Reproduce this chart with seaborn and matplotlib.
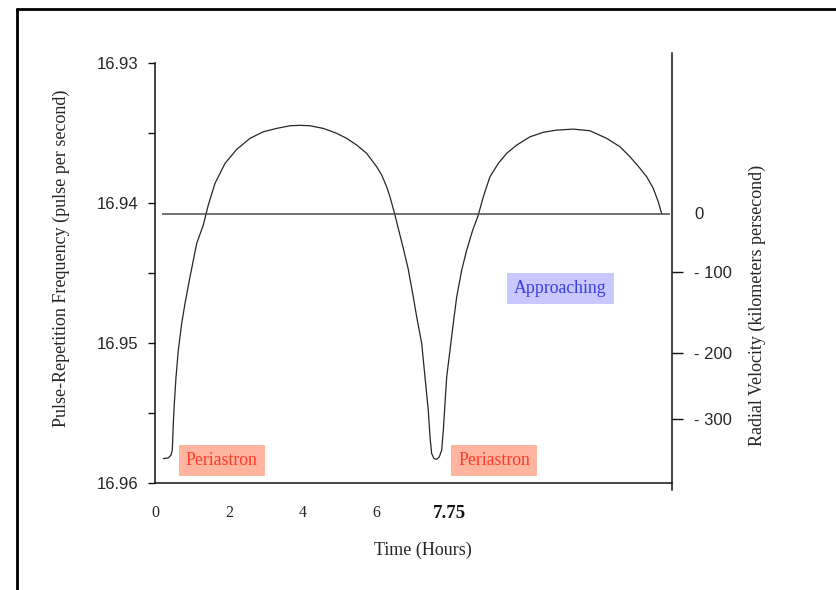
import matplotlib
matplotlib.use("Agg")
import matplotlib.pyplot as plt
from matplotlib.lines import Line2D
import pandas as pd
import seaborn as sns

# ---------------- data ----------------
time_hours = [0.225, 0.360, 0.433, 0.468, 0.496, 0.523, 0.569, 0.631, 0.723, 0.812,
              0.948, 1.129, 1.308, 1.443, 1.625, 1.895, 2.212, 2.572, 2.933, 3.295,
              3.656, 3.926, 4.197, 4.557, 4.920, 5.191, 5.462, 5.732, 6.003, 6.139,
              6.274, 6.363, 6.499, 6.588, 6.723, 6.851, 6.994, 7.086, 7.222, 7.311,
              7.400, 7.447, 7.492, 7.555, 7.628, 7.698, 7.763, 7.807, 7.853, 7.899,
              7.988, 8.077, 8.170, 8.305, 8.440, 8.603, 8.754, 8.890, 9.071, 9.296,
              9.523, 9.794, 10.154, 10.515, 10.877, 11.327, 11.779, 12.231, 12.591, 12.862,
              13.133, 13.314, 13.493, 13.628, 13.720]
pulse_freq = [16.95826, 16.95821, 16.95802, 16.95766, 16.95576, 16.95433, 16.95243, 16.95052,
              16.94861, 16.94719, 16.94529, 16.94290, 16.94159, 16.94016, 16.93861, 16.93719,
              16.93619, 16.93540, 16.93493, 16.93469, 16.93450, 16.93447, 16.93450, 16.93469,
              16.93504, 16.93540, 16.93588, 16.93647, 16.93743, 16.93802, 16.93886, 16.93957,
              16.94088, 16.94183, 16.94324, 16.94466, 16.94671, 16.94814, 16.95004, 16.95243,
              16.95481, 16.95671, 16.95790, 16.95826, 16.95831, 16.95814, 16.95766, 16.95624,
              16.95433, 16.95243, 16.95052, 16.94861, 16.94671, 16.94481, 16.94338, 16.94195,
              16.94088, 16.93957, 16.93814, 16.93719, 16.93647, 16.93588, 16.93529, 16.93497,
              16.93481, 16.93474, 16.93486, 16.93540, 16.93600, 16.93671, 16.93754, 16.93814,
              16.93897, 16.93993, 16.94076]

x_ticks = [0, 2, 4, 6, 7.75, 10, 12]
x_tick_labels = ["0", "2", "4", "6", "", "", ""]
highlight_tick = 7.75
highlight_label = "7.75"
left_major_ticks = [16.93, 16.94, 16.95, 16.96]
left_tick_labels = ["16.93", "16.94", "16.95", "16.96"]
left_minor_ticks = [16.935, 16.945, 16.955]
# radial velocity axis: labels and where they sit on the frequency scale
right_tick_labels = ["0", "- 100", "- 200", "- 300"]
right_tick_freq = [16.94076, 16.94493, 16.95074, 16.95545]
zero_velocity_freq = 16.94083
zero_line_span = [0.18, 13.95]

annotations = [
    ("Periastron", 1.81, 16.95838, "#FFB4A0", "#FF3C28"),
    ("Periastron", 9.19, 16.95838, "#FFB4A0", "#FF3C28"),
    ("Approaching", 10.97, 16.94609, "#C8C8FF", "#3C3CDC"),
]

df = pd.DataFrame({"Time (Hours)": time_hours, "freq": pulse_freq})

# ---------------- figure ----------------
sns.set_style("white")
plt.rcParams["font.family"] = ["Liberation Serif", "DejaVu Serif"]

W, H = 837, 590
fig = plt.figure(figsize=(W / 100, H / 100), dpi=100)
ax = fig.add_axes([155 / W, 1 - 483 / H, (672 - 155) / W, (483 - 62.7) / H])

sns.lineplot(data=df, x="Time (Hours)", y="freq", ax=ax, color="#262626",
             linewidth=0.9, sort=False)
ax.hlines(zero_velocity_freq, zero_line_span[0], zero_line_span[1],
          color="#4a4a4a", linewidth=1.1)

ax.set_xlim(0, 14)
ax.set_ylim(16.96, 16.93)

for s in ["top", "right"]:
    ax.spines[s].set_visible(False)
for s in ["left", "bottom"]:
    ax.spines[s].set_color("#111111")
    ax.spines[s].set_linewidth(1.1)

ax.set_xticks(x_ticks)
ax.set_xticklabels(x_tick_labels, fontsize=11.5)
ax.tick_params(axis="x", direction="out", length=5, width=1, color="#111111", pad=11)
ax.annotate(highlight_label, xy=(highlight_tick, 0), xycoords=("data", "axes fraction"),
            xytext=(8, -30), textcoords="offset pixels", ha="center", va="center",
            fontsize=13.5, fontweight="bold", color="#111111")

ax.set_yticks(left_major_ticks)
ax.set_yticklabels(left_tick_labels, family=["Liberation Sans", "DejaVu Sans"], fontsize=12)
ax.set_yticks(left_minor_ticks, minor=True)
ax.tick_params(axis="y", which="both", direction="out", length=5, width=1,
               color="#111111", pad=7, left=True)

ax.set_xlabel("Time (Hours)", fontsize=13)
ax.xaxis.set_label_coords((423 - 155) / 517, -(542 - 483) / 420)
ax.set_ylabel("Pulse-Repetition Frequency (pulse per second)", fontsize=13)
ax.yaxis.set_label_coords((70 - 155) / 517, (483 - 258) / 420)

# right axis (radial velocity)
twin = ax.twinx()
twin.set_ylim(ax.get_ylim())
for s in ["top", "left", "bottom"]:
    twin.spines[s].set_visible(False)
twin.spines["right"].set_color("#111111")
twin.spines["right"].set_linewidth(1.1)
twin.spines["right"].set_bounds(16.9605, 16.9293)
twin.set_yticks(right_tick_freq)
twin.set_yticklabels(right_tick_labels, family=["Liberation Sans", "DejaVu Sans"], fontsize=12)
twin.tick_params(axis="y", direction="out", length=8, width=1, color="#111111", pad=8)
zero_tick = twin.yaxis.get_major_ticks()[0]
zero_tick.tick2line.set_visible(False)
twin.set_ylabel("Radial Velocity (kilometers persecond)", fontsize=13)
twin.yaxis.set_label_coords((749 - 155) / 517, (483 - 306) / 420)

for text, xh, yf, bg, fg in annotations:
    ax.text(xh, yf, text, ha="center", va="center", fontsize=12.8, color=fg,
            bbox=dict(boxstyle="square,pad=0.4", facecolor=bg, edgecolor="none"))

# outer frame (top and left edges visible)
fig.add_artist(Line2D([17 / W, 1.0], [1 - 9 / H, 1 - 9 / H], transform=fig.transFigure,
                      color="black", linewidth=2))
fig.add_artist(Line2D([17 / W, 17 / W], [0.0, 1 - 9 / H], transform=fig.transFigure,
                      color="black", linewidth=2))

fig.savefig("out.png", dpi=100, facecolor="white")
